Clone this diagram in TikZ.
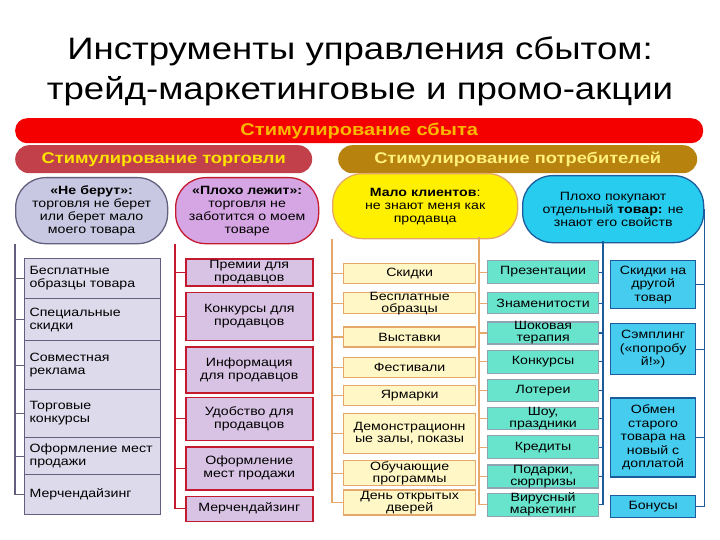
\documentclass[tikz,border=0pt]{standalone}
\usepackage{fontspec}
\setmainfont{Liberation Sans}[FakeStretch=1.18]
\usetikzlibrary{positioning}

\definecolor{barRed}{HTML}{F40000}
\definecolor{barText}{HTML}{F8B800}
\definecolor{tradeBar}{HTML}{C2404A}
\definecolor{tradeText}{HTML}{FFE400}
\definecolor{consBar}{HTML}{B8820E}
\definecolor{consText}{HTML}{FFF07A}
\definecolor{greyLine}{HTML}{62607E}
\definecolor{greyFill}{HTML}{C9C8E2}
\definecolor{tradeFill}{HTML}{DCDAEB}
\definecolor{sellLine}{HTML}{C41A30}
\definecolor{sellOval}{HTML}{D6A6E4}
\definecolor{sellFill}{HTML}{D8C3E4}
\definecolor{eventLine}{HTML}{E6A86A}
\definecolor{eventOval}{HTML}{FFF000}
\definecolor{eventFill}{HTML}{FFF8C6}
\definecolor{promoLine}{HTML}{8FA4B2}
\definecolor{promoFill}{HTML}{68E4CC}
\definecolor{offerLine}{HTML}{1C5C9C}
\definecolor{offerOval}{HTML}{28CCEE}
\definecolor{offerFill}{HTML}{46CCEE}

\begin{document}
\begin{tikzpicture}[
    x=1pt, y=-1pt,
    font=\fontsize{12}{13}\selectfont,
    heading/.style={align=center, font=\fontsize{31}{40}\selectfont},
    mainbar/.style={rectangle, rounded corners=12pt, fill=barRed, minimum width=688pt, minimum height=25pt, text=barText, font=\fontsize{17}{17}\selectfont\bfseries},
    groupbar/.style={rectangle, rounded corners=14pt, minimum height=28pt, font=\fontsize{15.5}{16}\selectfont\bfseries},
    oval/.style={rectangle, rounded corners=30pt, line width=1.3pt, align=center, inner sep=0pt},
    tradeitem/.style={rectangle, draw=greyLine, fill=tradeFill, line width=1.2pt, text width=126pt, align=left, inner xsep=5pt, inner ysep=0pt},
    sellitem/.style={rectangle, draw=sellLine, fill=sellFill, line width=1.5pt, minimum width=127pt, align=center, inner ysep=0pt},
    eventitem/.style={rectangle, draw=eventLine, fill=eventFill, line width=1.2pt, minimum width=132pt, align=center, inner ysep=-1pt, font=\fontsize{12}{12}\selectfont},
    promoitem/.style={rectangle, draw=promoLine, fill=promoFill, line width=1.2pt, minimum width=111pt, align=center, inner ysep=-1pt, font=\fontsize{12}{12}\selectfont},
    offeritem/.style={rectangle, draw=offerLine, fill=offerFill, line width=1.2pt, minimum width=85pt, align=center, inner ysep=0pt, font=\fontsize{12}{13.5}\selectfont},
    tradelink/.style={draw=greyLine, line width=1.2pt},
    selllink/.style={draw=sellLine, line width=1.2pt},
    eventlink/.style={draw=eventLine, line width=1.2pt},
    offerlink/.style={draw=offerLine, line width=1.2pt},
]
\useasboundingbox (0,0) rectangle (720,540);

    % Title
    \node (title) [heading] at (360,71) {Инструменты управления сбытом:\\трейд-маркетинговые и промо-акции};

    % Bars
    \node (sales) [mainbar, anchor=north west] at (15,118) {Стимулирование сбыта};
    \node (trade) [groupbar, fill=tradeBar, text=tradeText, minimum width=297pt, anchor=north west] at (15,145) {Стимулирование торговли};
    \node (consumer) [groupbar, fill=consBar, text=consText, minimum width=359pt, anchor=north west] at (338,145) {Стимулирование потребителей};

    % Problems
    \node (not_buy) [oval, draw=greyLine, fill=greyFill, minimum width=152pt, minimum height=66pt, anchor=north west] at (15,177) {\textbf{«Не берут»:}\\торговля не берет\\или берет мало\\моего товара};
    \node (bad_shelf) [oval, draw=sellLine, fill=sellOval, minimum width=143pt, minimum height=66pt, anchor=north west] at (175,177) {\textbf{«Плохо лежит»:}\\торговля не\\заботится о моем\\товаре};
    \node (few_clients) [oval, draw=eventLine, fill=eventOval, minimum width=185pt, minimum height=65pt, anchor=north west] at (332,173) {\textbf{Мало клиентов}:\\не знают меня как\\продавца};
    \node (bad_sales) [oval, draw=offerLine, fill=offerOval, minimum width=181pt, minimum height=67pt, anchor=north west] at (522,175) {Плохо покупают\\отдельный \textbf{товар:} не\\знают его свойств};
    \coordinate (few_root) at (479,237);
    \coordinate (bad_root) at (603,241);

    % Trade column
    \node (tr_samples) [tradeitem, minimum height=40pt, anchor=north west] at (24,258) {Бесплатные\\образцы товара};
    \node (tr_discounts) [tradeitem, minimum height=42pt, below=-1.2pt of tr_samples] {Специальные\\скидки};
    \node (tr_coad) [tradeitem, minimum height=49pt, below=-1.2pt of tr_discounts] {Совместная\\реклама};
    \node (tr_contests) [tradeitem, minimum height=48pt, below=-1.2pt of tr_coad] {Торговые\\конкурсы};
    \node (tr_display) [tradeitem, minimum height=37pt, below=-1.2pt of tr_contests] {Оформление мест\\продажи};
    \node (tr_merch) [tradeitem, minimum height=40pt, below=-1.2pt of tr_display] {Мерчендайзинг};

    % Seller column
    \node (sl_bonus) [sellitem, minimum height=27pt, anchor=north west] at (185,258) {Премии для\\продавцов};
    \node (sl_contests) [sellitem, minimum height=48pt, below=5pt of sl_bonus] {Конкурсы для\\продавцов};
    \node (sl_info) [sellitem, minimum height=46pt, below=5pt of sl_contests] {Информация\\для продавцов};
    \node (sl_comfort) [sellitem, minimum height=43pt, below=3pt of sl_info] {Удобство для\\продавцов};
    \node (sl_display) [sellitem, minimum height=43pt, below=5pt of sl_comfort] {Оформление\\мест продажи};
    \node (sl_merch) [sellitem, minimum height=25pt, below=5pt of sl_display] {Мерчендайзинг};

    % Event column
    \node (ev_discounts) [eventitem, minimum height=20pt, anchor=north west] at (343,263) {Скидки};
    \node (ev_samples) [eventitem, minimum height=21pt, below=8pt of ev_discounts] {Бесплатные\\образцы};
    \node (ev_exhib) [eventitem, minimum height=20pt, below=12pt of ev_samples] {Выставки};
    \node (ev_fest) [eventitem, minimum height=20pt, below=9pt of ev_exhib] {Фестивали};
    \node (ev_fairs) [eventitem, minimum height=20pt, below=7pt of ev_fest] {Ярмарки};
    \node (ev_showrooms) [eventitem, minimum height=40pt, below=7pt of ev_fairs] {Демонстрационн\\ые залы, показы};
    \node (ev_training) [eventitem, minimum height=25pt, below=6pt of ev_showrooms] {Обучающие\\программы};
    \node (ev_openday) [eventitem, minimum height=25pt, below=3pt of ev_training] {День открытых\\дверей};

    % Promo column
    \node (pr_present) [promoitem, minimum height=23pt, anchor=north west] at (487,260) {Презентации};
    \node (pr_celeb) [promoitem, minimum height=21pt, below=8pt of pr_present] {Знаменитости};
    \node (pr_shock) [promoitem, minimum height=22pt, below=7pt of pr_celeb] {Шоковая\\терапия};
    \node (pr_contests) [promoitem, minimum height=23pt, below=5pt of pr_shock] {Конкурсы};
    \node (pr_lottery) [promoitem, minimum height=22pt, below=5pt of pr_contests] {Лотереи};
    \node (pr_shows) [promoitem, minimum height=22pt, below=5pt of pr_lottery] {Шоу,\\праздники};
    \node (pr_credit) [promoitem, minimum height=23pt, below=5pt of pr_shows] {Кредиты};
    \node (pr_gifts) [promoitem, minimum height=23pt, below=5pt of pr_credit] {Подарки,\\сюрпризы};
    \node (pr_viral) [promoitem, minimum height=23pt, below=4pt of pr_gifts] {Вирусный\\маркетинг};

    % Offer column
    \node (of_other) [offeritem, minimum height=48pt, anchor=north west] at (610,260) {Скидки на\\другой\\товар};
    \node (of_sampling) [offeritem, minimum height=51pt, below=14pt of of_other] {Сэмплинг\\(«попробу\\й!»)};
    \node (of_tradein) [offeritem, minimum height=79pt, below=22pt of of_sampling] {Обмен\\старого\\товара на\\новый с\\доплатой};
    \node (of_bonus) [offeritem, minimum height=22pt, below=17pt of of_tradein] {Бонусы};

    % Links
    \draw [tradelink] (not_buy.south west) |- (tr_samples.west);
    \draw [tradelink] (not_buy.south west) |- (tr_discounts.west);
    \draw [tradelink] (not_buy.south west) |- (tr_coad.west);
    \draw [tradelink] (not_buy.south west) |- (tr_contests.west);
    \draw [tradelink] (not_buy.south west) |- (tr_display.west);
    \draw [tradelink] (not_buy.south west) |- (tr_merch.west);

    \draw [selllink] (bad_shelf.south west) |- (sl_bonus.west);
    \draw [selllink] (bad_shelf.south west) |- (sl_contests.west);
    \draw [selllink] (bad_shelf.south west) |- (sl_info.west);
    \draw [selllink] (bad_shelf.south west) |- (sl_comfort.west);
    \draw [selllink] (bad_shelf.south west) |- (sl_display.west);
    \draw [selllink] (bad_shelf.south west) |- (sl_merch.west);

    \draw [eventlink] (few_clients.south west) |- (ev_discounts.west);
    \draw [eventlink] (few_clients.south west) |- (ev_samples.west);
    \draw [eventlink] (few_clients.south west) |- (ev_exhib.west);
    \draw [eventlink] (few_clients.south west) |- (ev_fest.west);
    \draw [eventlink] (few_clients.south west) |- (ev_fairs.west);
    \draw [eventlink] (few_clients.south west) |- (ev_showrooms.west);
    \draw [eventlink] (few_clients.south west) |- (ev_training.west);
    \draw [eventlink] (few_clients.south west) |- (ev_openday.west);

    \draw [eventlink] (few_root) |- (pr_present.west);
    \draw [eventlink] (few_root) |- (pr_celeb.west);
    \draw [eventlink] (few_root) |- (pr_shock.west);
    \draw [eventlink] (few_root) |- (pr_contests.west);
    \draw [eventlink] (few_root) |- (pr_lottery.west);
    \draw [eventlink] (few_root) |- (pr_shows.west);
    \draw [eventlink] (few_root) |- (pr_credit.west);
    \draw [eventlink] (few_root) |- (pr_gifts.west);
    \draw [eventlink] (few_root) |- (pr_viral.west);

    \draw [offerlink] (bad_root) |- (pr_present.east);
    \draw [offerlink] (bad_root) |- (pr_celeb.east);
    \draw [offerlink] (bad_root) |- (pr_shock.east);
    \draw [offerlink] (bad_root) |- (pr_contests.east);
    \draw [offerlink] (bad_root) |- (pr_lottery.east);
    \draw [offerlink] (bad_root) |- (pr_shows.east);
    \draw [offerlink] (bad_root) |- (pr_credit.east);
    \draw [offerlink] (bad_root) |- (pr_gifts.east);
    \draw [offerlink] (bad_root) |- (pr_viral.east);

    \draw [offerlink] (bad_sales.east) |- (of_other.east);
    \draw [offerlink] (bad_sales.east) |- (of_sampling.east);
    \draw [offerlink] (bad_sales.east) |- (of_tradein.east);
    \draw [offerlink] (bad_sales.east) |- (of_bonus.east);

\end{tikzpicture}
\end{document}
